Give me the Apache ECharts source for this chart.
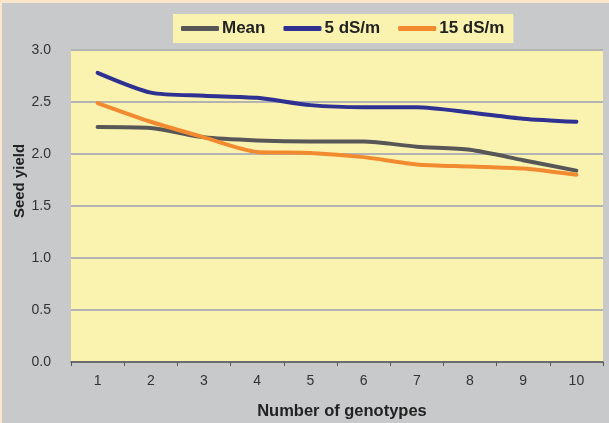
<!DOCTYPE html>
<html>
<head>
<meta charset="utf-8">
<script src="https://cdn.jsdelivr.net/npm/echarts@6/dist/echarts.min.js"></script>
<style>
  html, body { margin: 0; padding: 0; background: #c8c9cb; }
  #chart { width: 609px; height: 423px; }
</style>
</head>
<body>
<div id="chart"></div>
<script>
// Seed yield by number of genotypes
const categories = ['1', '2', '3', '4', '5', '6', '7', '8', '9', '10'];
const meanYield = [2.26, 2.25, 2.16, 2.13, 2.12, 2.12, 2.07, 2.04, 1.94, 1.84];
const yield5 = [2.78, 2.59, 2.56, 2.54, 2.47, 2.45, 2.45, 2.40, 2.34, 2.31];
const yield15 = [2.49, 2.31, 2.16, 2.02, 2.01, 1.97, 1.90, 1.88, 1.86, 1.80];
const seriesNames = ['Mean', '5 dS/m', '15 dS/m'];
const seriesColors = ['#575757', '#2e3192', '#f28a30'];

const font = 'Liberation Sans, Arial, sans-serif';
const chart = echarts.init(document.getElementById('chart'));

function lineSeries(name, data, color) {
  return {
    name: name,
    type: 'line',
    data: data,
    smooth: 0.25,
    symbol: 'none',
    lineStyle: { color: color, width: 4, cap: 'round', join: 'round' },
    itemStyle: { color: color }
  };
}

chart.setOption({
  backgroundColor: '#c8c9cb',
  animation: false,
  grid: {
    left: 71, right: 6, top: 50, bottom: 61,
    show: true, backgroundColor: '#faf3b0', borderWidth: 0
  },
  legend: {
    data: seriesNames,
    top: 14,
    left: 173,
    padding: [6, 9, 6, 8],
    backgroundColor: '#faf3b0',
    itemWidth: 38,
    itemHeight: 5,
    itemGap: 18,
    icon: 'roundRect',
    textStyle: { fontFamily: font, fontWeight: 'bold', fontSize: 17, color: '#222', padding: [0, 0, 0, -2] }
  },
  xAxis: {
    type: 'category',
    data: categories,
    boundaryGap: true,
    axisLine: { lineStyle: { color: '#555', width: 1.5 } },
    axisTick: { show: true, length: 4, lineStyle: { color: '#555' } },
    axisLabel: { fontFamily: font, fontSize: 14, color: '#333', margin: 12 },
    splitLine: { show: false }
  },
  yAxis: {
    type: 'value',
    min: 0, max: 3, interval: 0.5,
    axisLine: { show: false },
    axisTick: { show: false },
    axisLabel: {
      fontFamily: font, fontSize: 14, color: '#333', margin: 20,
      formatter: v => v.toFixed(1)
    },
    splitLine: { lineStyle: { color: '#b3b3b3', width: 2 } }
  },
  graphic: [
    { type: 'rect', left: 0, top: 0, shape: { width: 609, height: 3 }, style: { fill: '#fbe5cb' }, silent: true },
    { type: 'rect', left: 0, top: 0, shape: { width: 2, height: 423 }, style: { fill: '#fbe5cb' }, silent: true },
    {
      type: 'text', x: 20, y: 181, rotation: Math.PI / 2, origin: [0, 0],
      style: {
        text: 'Seed yield', fontFamily: font, fontWeight: 'bold', fontSize: 15,
        fill: '#222', align: 'center', verticalAlign: 'middle'
      }
    },
    {
      type: 'text', x: 342, y: 411,
      style: {
        text: 'Number of genotypes', fontFamily: font, fontWeight: 'bold', fontSize: 16.5,
        fill: '#222', align: 'center', verticalAlign: 'middle'
      }
    }
  ],
  series: [
    lineSeries(seriesNames[0], meanYield, seriesColors[0]),
    lineSeries(seriesNames[1], yield5, seriesColors[1]),
    lineSeries(seriesNames[2], yield15, seriesColors[2])
  ]
});
</script>
</body>
</html>
